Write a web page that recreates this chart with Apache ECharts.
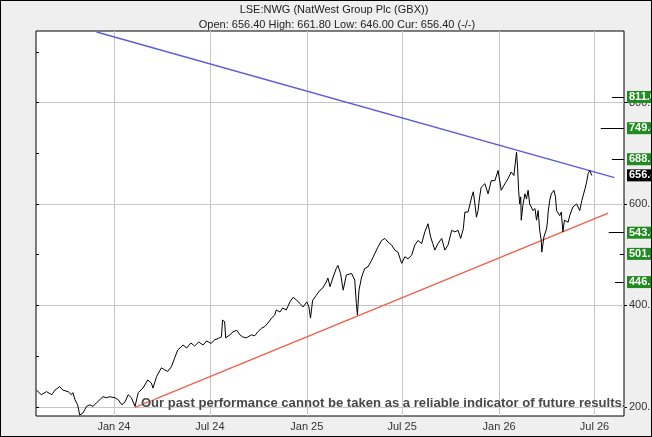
<!DOCTYPE html>
<html>
<head>
<meta charset="utf-8">
<script src="https://cdn.jsdelivr.net/npm/echarts@6/dist/echarts.min.js"></script>
<style>
html, body { margin: 0; padding: 0; background: #efefef; }
#chart { width: 650px; height: 435px; border: 1px solid #000; background: #efefef; }
</style>
</head>
<body>
<div id="chart"></div>
<script>
// NWG daily close (roughly weekly points)
var priceDates = [
    '2023-08-07', '2023-08-16', '2023-08-26', '2023-09-05', '2023-09-11', '2023-09-20', '2023-09-26',
    '2023-10-06', '2023-10-12', '2023-10-15', '2023-10-19', '2023-10-24', '2023-10-28',
    '2023-11-03', '2023-11-10', '2023-11-16', '2023-11-22', '2023-11-29',
    '2023-12-05', '2023-12-11', '2023-12-18', '2023-12-24',
    '2024-01-03', '2024-01-09', '2024-01-16', '2024-01-22', '2024-01-28',
    '2024-02-03', '2024-02-10', '2024-02-16', '2024-02-25',
    '2024-03-05', '2024-03-12', '2024-03-15', '2024-03-22', '2024-03-31',
    '2024-04-06', '2024-04-12', '2024-04-19', '2024-04-25', '2024-05-01',
    '2024-05-11', '2024-05-18', '2024-05-26', '2024-06-02', '2024-06-10', '2024-06-18', '2024-06-25',
    '2024-07-03', '2024-07-10', '2024-07-17', '2024-07-23', '2024-07-25', '2024-07-29', '2024-07-31',
    '2024-08-08', '2024-08-14', '2024-08-21', '2024-08-27', '2024-08-30',
    '2024-09-01', '2024-09-08', '2024-09-18', '2024-09-24', '2024-09-30',
    '2024-10-07', '2024-10-13', '2024-10-19', '2024-10-26',
    '2024-11-01', '2024-11-04', '2024-11-11', '2024-11-16', '2024-11-23', '2024-11-30',
    '2024-12-06', '2024-12-13', '2024-12-19', '2024-12-25',
    '2025-01-01', '2025-01-05', '2025-01-08', '2025-01-12', '2025-01-19', '2025-01-26', '2025-01-31',
    '2025-02-07', '2025-02-10', '2025-02-14', '2025-02-20', '2025-02-26',
    '2025-03-01', '2025-03-06', '2025-03-11', '2025-03-17', '2025-03-27',
    '2025-04-02', '2025-04-05', '2025-04-07', '2025-04-10', '2025-04-15', '2025-04-21', '2025-04-27',
    '2025-05-04', '2025-05-10', '2025-05-16', '2025-05-23', '2025-05-29',
    '2025-06-04', '2025-06-11', '2025-06-17', '2025-06-23', '2025-06-30',
    '2025-07-06', '2025-07-12', '2025-07-19', '2025-07-25', '2025-07-31',
    '2025-08-07', '2025-08-13', '2025-08-19', '2025-08-24', '2025-08-28',
    '2025-09-01', '2025-09-07', '2025-09-14', '2025-09-20', '2025-09-26',
    '2025-10-03', '2025-10-09', '2025-10-15', '2025-10-20', '2025-10-25', '2025-10-28',
    '2025-11-03', '2025-11-10', '2025-11-13', '2025-11-16', '2025-11-19', '2025-11-22', '2025-11-25', '2025-11-28',
    '2025-12-05', '2025-12-11', '2025-12-17', '2025-12-24', '2025-12-30',
    '2026-01-05', '2026-01-12', '2026-01-18', '2026-01-24', '2026-01-29',
    '2026-02-03', '2026-02-05', '2026-02-07', '2026-02-09', '2026-02-11', '2026-02-12', '2026-02-15',
    '2026-02-19', '2026-02-22', '2026-02-25', '2026-02-28',
    '2026-03-03', '2026-03-06', '2026-03-10', '2026-03-13', '2026-03-16', '2026-03-19', '2026-03-22',
    '2026-03-23', '2026-03-27',
    '2026-04-01', '2026-04-03', '2026-04-04', '2026-04-07', '2026-04-10', '2026-04-15', '2026-04-18',
    '2026-04-20', '2026-04-26', '2026-04-29',
    '2026-05-02', '2026-05-05', '2026-05-12', '2026-05-15', '2026-05-21', '2026-05-28',
    '2026-06-03', '2026-06-07', '2026-06-13', '2026-06-16', '2026-06-19', '2026-06-22', '2026-06-26'
];
var priceValues = [
    233, 224, 230, 224, 233, 240, 233,
    230, 224, 228, 214, 204, 184,
    188, 201, 204, 201, 208,
    214, 220, 218, 220,
    218, 214, 204, 210, 224,
    218, 201, 228, 237,
    253, 247, 237, 260, 277,
    273, 270, 279, 296, 312,
    322, 316, 326, 320, 328, 322, 330,
    325, 332, 335, 338, 371, 368, 336,
    342, 348, 351, 342, 345,
    338, 336, 342, 340, 348,
    355, 358, 365, 375,
    381, 391, 387, 395, 391, 407,
    416, 410, 404, 397,
    407, 397, 375, 410, 420, 430, 434,
    446, 454, 437, 456, 473,
    479, 463, 430, 460, 463,
    450, 404, 381, 430, 456, 473, 476,
    489, 502, 515, 528, 532,
    525, 519, 509, 505, 483,
    496, 492, 499, 519, 528,
    522, 545, 561, 535, 522,
    509, 522, 532, 509, 519,
    548, 545, 548, 532, 551, 584,
    584, 614, 624, 600, 574, 587, 614, 633,
    640, 620, 646, 646, 666,
    627, 640, 650, 663, 656,
    702, 673, 627, 600, 614, 568, 597,
    620, 610, 627, 600,
    594, 587, 591, 568, 587, 548, 528,
    505, 535,
    551, 568, 584, 607, 620, 627, 614,
    587, 577, 584,
    545, 568, 564, 577, 594, 600,
    587, 607, 630, 643, 660, 666, 656
];

// trend lines
var resistDates = ['2023-11-29', '2026-08-08'];
var resistValues = [939, 652];
var supportDates = ['2024-02-10', '2026-07-27'];
var supportValues = [199, 582];

// price targets on the right edge
var targetValues = [811.0, 749.4, 688.2, 543.4, 501.6, 446.0];
var targetFrom = ['2026-08-03', '2026-07-13', '2026-08-03', '2026-07-28', '2026-08-18', '2026-08-09'];
var currentPrice = 656.4;
var ohlc = [656.40, 661.80, 646.00, 656.40];

var xTickDates = ['2024-01-01', '2024-07-01', '2025-01-01', '2025-07-01', '2026-01-01', '2026-07-01'];
var xTickLabels = ['Jan 24', 'Jul 24', 'Jan 25', 'Jul 25', 'Jan 26', 'Jul 26'];
var yTicks = [200, 400, 600, 800];
var yMinorTicks = [200, 300, 400, 500, 600, 700, 800, 900];

function ts(d) {
    return Date.parse(d + 'T00:00:00Z');
}
function zip(dates, vals) {
    var out = [];
    for (var i = 0; i < dates.length; i++) out.push([ts(dates[i]), vals[i]]);
    return out;
}

var xMin = ts('2023-08-06');
var xMax = ts('2026-08-26');
var xTicks = xTickDates.map(ts);
var labelMap = {};
xTicks.forEach(function (t, i) { labelMap[t] = xTickLabels[i]; });

var font = '"Liberation Sans", Arial, sans-serif';
var gridColor = '#c6c6c6';

var targetLines = targetValues.map(function (v, i) {
    return [{ coord: [ts(targetFrom[i]), v] }, { coord: [xMax, v] }];
});

var boxLabel = {
    show: true,
    position: 'end',
    distance: 3,
    color: '#fff',
    fontWeight: 'bold',
    fontSize: 11,
    lineHeight: 12,
    padding: [0, 2]
};

var myChart = echarts.init(document.getElementById('chart'));
var option = {
    animation: false,
    backgroundColor: '#efefef',
    textStyle: { fontFamily: font },
    grid: {
        left: 35,
        top: 30,
        width: 588,
        height: 385,
        outerBoundsMode: 'none',
        containLabel: false,
        show: true,
        backgroundColor: '#fff',
        borderColor: '#000',
        borderWidth: 1
    },
    xAxis: {
        type: 'value',
        min: xMin,
        max: xMax,
        axisLine: { show: false },
        axisTick: { show: false, customValues: xTicks },
        axisLabel: {
            customValues: xTicks,
            formatter: function (v) { return labelMap[v] || ''; },
            color: '#333',
            fontSize: 11,
            margin: 5
        },
        splitLine: { show: true, lineStyle: { color: gridColor, width: 1 } }
    },
    yAxis: [{
        type: 'value',
        position: 'right',
        min: 182,
        max: 941,
        axisLine: { show: false },
        axisTick: { show: true, customValues: yTicks, length: 3, lineStyle: { color: '#000' } },
        axisLabel: {
            customValues: yTicks,
            formatter: function (v) { return v.toFixed(1); },
            color: '#333',
            fontSize: 11,
            margin: 5
        },
        splitLine: { show: true, lineStyle: { color: gridColor, width: 1 } }
    }, {
        type: 'value',
        position: 'left',
        min: 182,
        max: 941,
        axisLine: { show: false },
        axisTick: { show: true, inside: true, customValues: yMinorTicks, length: 3, lineStyle: { color: '#000' } },
        axisLabel: { show: false },
        splitLine: { show: false }
    }],
    series: [{
        name: 'NWG',
        type: 'line',
        data: zip(priceDates, priceValues),
        symbol: 'none',
        lineStyle: { color: '#000', width: 1 },
        z: 4
    }, {
        name: 'resistance',
        type: 'line',
        data: zip(resistDates, resistValues),
        symbol: 'none',
        lineStyle: { color: '#5b5bdc', width: 1.4 },
        z: 3,
        markLine: {
            silent: true,
            symbol: ['none', 'none'],
            lineStyle: { color: 'rgba(0,0,0,0)', width: 1, type: 'solid' },
            label: echarts.util.extend({
                formatter: function () { return currentPrice.toFixed(1); },
                backgroundColor: '#000'
            }, boxLabel),
            data: [[{ coord: [ts(targetFrom[4]), currentPrice] }, { coord: [xMax, currentPrice] }]]
        }
    }, {
        name: 'support',
        type: 'line',
        data: zip(supportDates, supportValues),
        symbol: 'none',
        lineStyle: { color: '#f0604a', width: 1.4 },
        z: 3,
        markLine: {
            silent: true,
            symbol: ['none', 'none'],
            lineStyle: { color: '#000', width: 1, type: 'solid' },
            label: echarts.util.extend({
                formatter: function (p) { return targetValues[p.dataIndex].toFixed(1); },
                backgroundColor: '#1e8c1e'
            }, boxLabel),
            data: targetLines
        }
    }],
    graphic: [{
        type: 'text',
        x: 333,
        y: 3,
        style: {
            text: 'LSE:NWG (NatWest Group Plc (GBX))',
            font: '11px ' + font,
            fill: '#222',
            align: 'center'
        }
    }, {
        type: 'text',
        x: 336,
        y: 18,
        style: {
            text: 'Open: ' + ohlc[0].toFixed(2) + ' High: ' + ohlc[1].toFixed(2) + ' Low: ' + ohlc[2].toFixed(2) +
                ' Cur: ' + ohlc[3].toFixed(2) + ' (-/-)',
            font: '11px ' + font,
            fill: '#222',
            align: 'center'
        }
    }, {
        type: 'text',
        right: 25,
        top: 395,
        z: 100,
        style: {
            text: 'Our past performance cannot be taken as a reliable indicator of future results.',
            font: 'bold 13.1px "Liberation Sans", Arial',
            fill: '#474747',
            stroke: 'rgba(255,255,255,0.6)',
            lineWidth: 1
        }
    }]
};
myChart.setOption(option);
</script>
</body>
</html>
